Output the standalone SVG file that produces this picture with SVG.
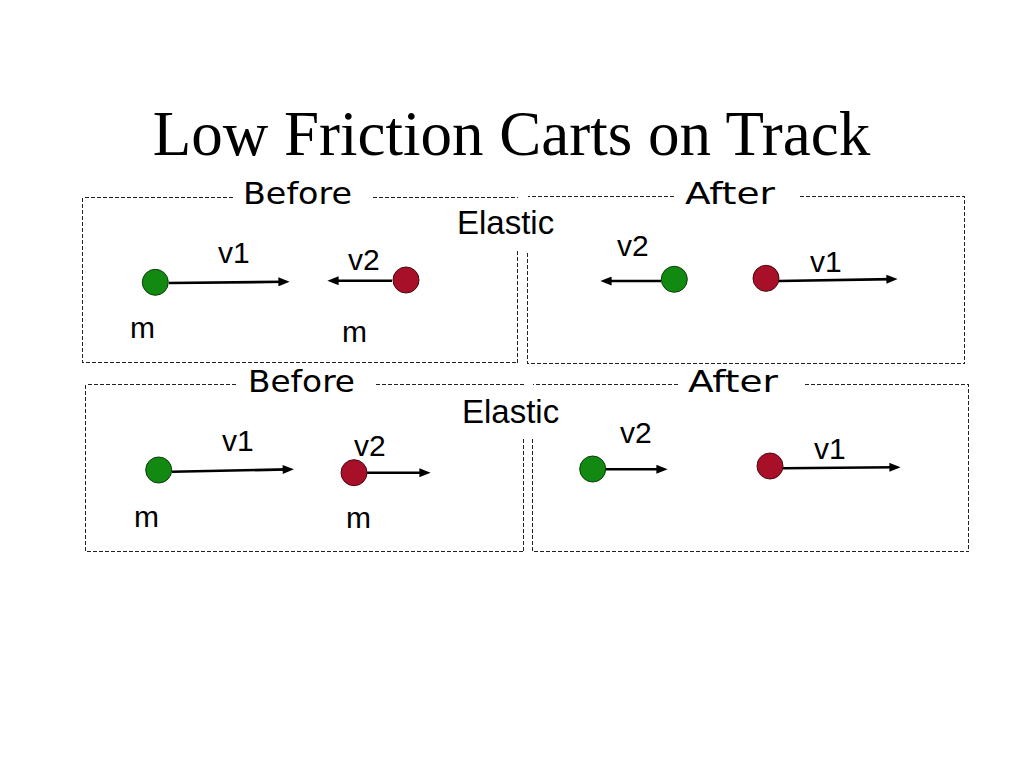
<svg xmlns="http://www.w3.org/2000/svg" width="1024" height="768" viewBox="0 0 1024 768">
  <style>
    .box { fill: none; stroke: #222; stroke-width: 1; stroke-dasharray: 4 2; shape-rendering: crispEdges; }
    .hand { font-family: "Comic Sans MS", "DejaVu Sans", sans-serif; font-size: 31px; fill: #000; }
    .lbl { font-family: "Liberation Sans", Arial, sans-serif; font-size: 30px; fill: #000; }
    .ela { font-family: "Liberation Sans", Arial, sans-serif; font-size: 33px; fill: #000; }
    .title { font-family: "Liberation Serif", "Times New Roman", serif; font-size: 63px; fill: #000; }
    .green { fill: #128a12; stroke: #0b3d0b; stroke-width: 1; }
    .red { fill: #a8102a; stroke: #4a0a12; stroke-width: 1; }
    .arrow { stroke: #000; stroke-width: 2.6; fill: none; marker-end: url(#ah); }
  </style>
  <defs>
    <marker id="ah" viewBox="0 0 10 8" refX="5" refY="4" markerWidth="12" markerHeight="9" markerUnits="userSpaceOnUse" orient="auto">
      <path d="M0,0 L10,4 L0,8 z" fill="#000"/>
    </marker>
  </defs>
  <rect width="1024" height="768" fill="#fff"/>

  <text id="title" class="title" x="511.5" y="155" text-anchor="middle">Low Friction Carts on Track</text>

  <g id="panels">
    <g id="panel-top-before">
      <path class="box" d="M372.5,197.5 H517.5 M517.5,250.5 V362.5 H82.5 V197.5 H232.5"/>
      <text class="hand" x="243" y="204" textLength="109" lengthAdjust="spacingAndGlyphs">Before</text>
    </g>
    <g id="panel-top-after">
      <path class="box" d="M673.5,196.5 H527.5 M527.5,252.5 V363.5 H964.5 V196.5 H797.5"/>
      <text class="hand" x="685" y="204" textLength="90" lengthAdjust="spacingAndGlyphs">After</text>
    </g>
    <g id="panel-bottom-before">
      <path class="box" d="M375.5,384.5 H523.5 M523.5,438.5 V551.5 H85.5 V384.5 H237.5"/>
      <text class="hand" x="248" y="392" textLength="107" lengthAdjust="spacingAndGlyphs">Before</text>
    </g>
    <g id="panel-bottom-after">
      <path class="box" d="M677.5,384.5 H532.5 M532.5,438.5 V551.5 H968.5 V384.5 H802.5"/>
      <text class="hand" x="688" y="392" textLength="90" lengthAdjust="spacingAndGlyphs">After</text>
    </g>
  </g>

  <g id="elastic-top"><text class="ela" x="457" y="234">Elastic</text></g>
  <g id="elastic-bottom"><text class="ela" x="462" y="423">Elastic</text></g>

  <g id="connectors">
    <line class="arrow" x1="169" y1="283" x2="284" y2="281.8"/>
    <line class="arrow" x1="392" y1="280.7" x2="333" y2="280.7"/>
    <line class="arrow" x1="661" y1="281" x2="606" y2="281"/>
    <line class="arrow" x1="779" y1="281" x2="892" y2="279.1"/>
    <line class="arrow" x1="172" y1="471.7" x2="288.3" y2="469.4"/>
    <line class="arrow" x1="367" y1="472.7" x2="425" y2="472.7"/>
    <line class="arrow" x1="605" y1="469.3" x2="662" y2="469.3"/>
    <line class="arrow" x1="783" y1="468.3" x2="895" y2="467.3"/>
  </g>

  <g id="tb-cart1"><circle class="green" cx="155.3" cy="282.3" r="13"/></g>
  <g id="tb-cart2"><circle class="red" cx="406" cy="280" r="13"/></g>
  <g id="ta-cart1"><circle class="green" cx="674.3" cy="279.3" r="13"/></g>
  <g id="ta-cart2"><circle class="red" cx="766" cy="278.3" r="13"/></g>
  <g id="bb-cart1"><circle class="green" cx="158.7" cy="470" r="13"/></g>
  <g id="bb-cart2"><circle class="red" cx="354" cy="472.7" r="13"/></g>
  <g id="ba-cart1"><circle class="green" cx="592.7" cy="469" r="13"/></g>
  <g id="ba-cart2"><circle class="red" cx="770" cy="466" r="13"/></g>

  <g id="labels">
    <text class="lbl" x="218" y="263">v1</text>
    <text class="lbl" x="348" y="270">v2</text>
    <text class="lbl" x="130" y="338">m</text>
    <text class="lbl" x="342" y="342">m</text>
    <text class="lbl" x="617" y="256">v2</text>
    <text class="lbl" x="810" y="272">v1</text>
    <text class="lbl" x="222" y="451">v1</text>
    <text class="lbl" x="354" y="456">v2</text>
    <text class="lbl" x="134" y="527">m</text>
    <text class="lbl" x="346" y="528">m</text>
    <text class="lbl" x="620" y="443">v2</text>
    <text class="lbl" x="814" y="459">v1</text>
  </g>
</svg>
